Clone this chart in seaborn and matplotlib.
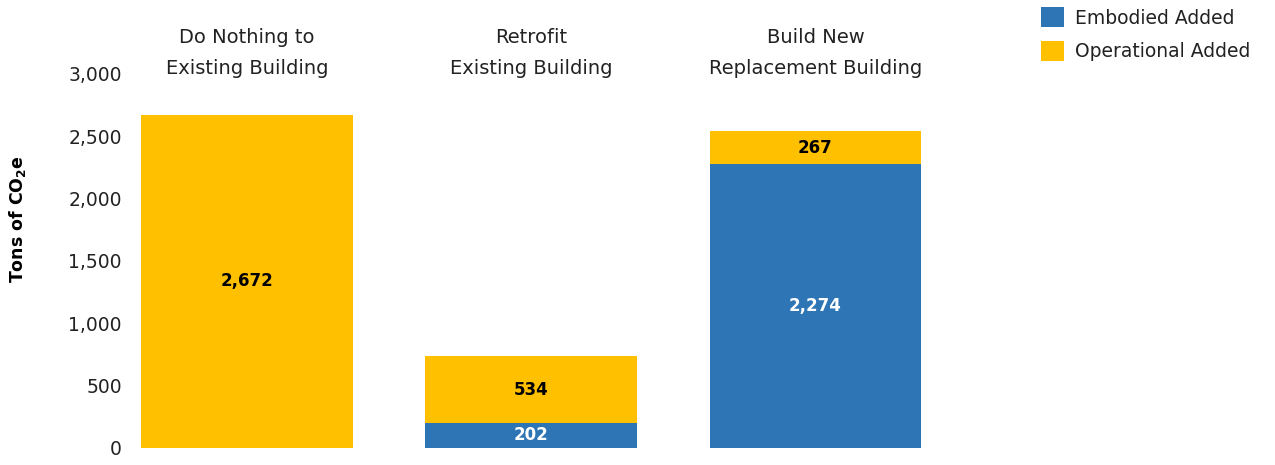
import matplotlib
matplotlib.use("Agg")
import matplotlib.pyplot as plt
import matplotlib.transforms as mtransforms
from matplotlib.patches import Patch
import numpy as np
import pandas as pd
import seaborn as sns

# Scenario data (tons of CO2e)
scenarios = ["Do Nothing to\nExisting Building",
             "Retrofit\nExisting Building",
             "Build New\nReplacement Building"]
embodied = [0, 202, 2274]
operational = [2672, 534, 267]
yticks = [0, 500, 1000, 1500, 2000, 2500, 3000]

BLUE = "#2E75B6"
YELLOW = "#FFC000"
TEXT = "#222222"

sns.set_theme(style="white")
plt.rcParams["font.family"] = ["DejaVu Sans"]
plt.rcParams["mathtext.fontset"] = "dejavusans"

df = pd.DataFrame({
    "scenario": scenarios,
    "embodied": embodied,
    "operational": operational,
})
df["total"] = df["embodied"] + df["operational"]

fig = plt.figure(figsize=(12.75, 4.65), dpi=100)
ax = fig.add_axes([0.100, 0.0366, 0.651, 0.8043])

# Stacked bars: full height in the operational colour, embodied drawn over the base
sns.barplot(data=df, x="scenario", y="total", color=YELLOW, saturation=1,
            width=0.745, ax=ax, linewidth=0)
sns.barplot(data=df, x="scenario", y="embodied", color=BLUE, saturation=1,
            width=0.745, ax=ax, linewidth=0)

ax.set_ylim(0, 3000)
ax.set_xlim(-0.42, 2.5)
ax.set_yticks(yticks)
ax.set_yticklabels([f"{v:,}" for v in yticks], fontsize=13.5, color=TEXT)
ax.tick_params(axis="y", length=0, pad=4)
ax.set_xticks([])
ax.set_xlabel("")
ax.set_ylabel("")
for s in ax.spines.values():
    s.set_visible(False)

# Segment value labels
for i, (e, o) in enumerate(zip(embodied, operational)):
    if e > 0:
        ax.text(i, e / 2, f"{e:,}", ha="center", va="center", fontsize=12,
                fontweight="bold", color="white")
    ax.text(i, e + o / 2, f"{o:,}", ha="center", va="center", fontsize=12,
            fontweight="bold", color="black")

# Scenario titles above the bars
trans = mtransforms.blended_transform_factory(ax.transData, fig.transFigure)
for i, name in enumerate(scenarios):
    ax.text(i, 1 - 53 / 465, name, transform=trans, ha="center", va="center",
            fontsize=14, color=TEXT, linespacing=1.75)

# Y-axis title with subscript
fig.text(18 / 1275, 1 - 219 / 465, r"Tons of CO$_\mathbf{2}$e", rotation=90,
         ha="center", va="center", fontsize=12.5, fontweight="bold", color="black")

handles = [Patch(facecolor=BLUE, edgecolor="none", label="Embodied Added"),
           Patch(facecolor=YELLOW, edgecolor="none", label="Operational Added")]
fig.legend(handles=handles, loc="upper left", bbox_to_anchor=(1033 / 1275, 1.0),
           frameon=False, fontsize=13.5, handlelength=1.25, handleheight=1.25,
           handletextpad=0.6, labelspacing=0.7, borderaxespad=0.0,
           labelcolor=TEXT)

fig.savefig("out.png", dpi=100)
